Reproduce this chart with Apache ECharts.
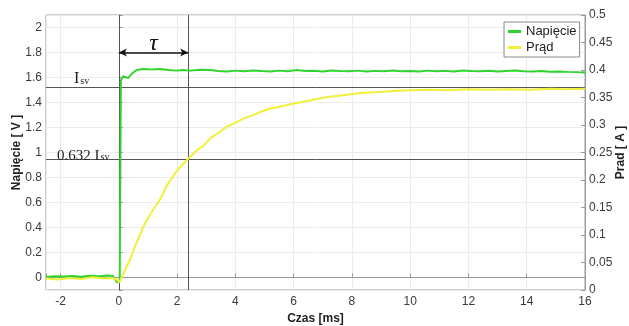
<!DOCTYPE html>
<html>
<head>
<meta charset="utf-8">
<script src="https://cdn.jsdelivr.net/npm/echarts@6.0.0/dist/echarts.min.js"></script>
<style>
  html, body { margin: 0; padding: 0; background: #fff; }
  #chart { width: 629px; height: 326px; }
</style>
</head>
<body>
<div id="chart"></div>
<script>
// czas [ms], napiecie [V] (lewa os)
const napiecie = [
  [-2.5, 0.005], [-2.2, 0.01], [-1.9, 0.008], [-1.6, 0.012], [-1.3, 0.006], [-1.0, 0.014],
  [-0.7, 0.01], [-0.4, 0.016], [-0.2, 0.012], [-0.06, -0.04], [0.03, -0.02], [0.07, 1.58],
  [0.15, 1.61], [0.32, 1.595], [0.44, 1.63], [0.61, 1.66], [0.84, 1.668], [1.1, 1.665],
  [1.41, 1.668], [1.7, 1.66], [1.99, 1.655], [2.2, 1.66], [2.45, 1.655], [2.8, 1.662],
  [3.14, 1.66], [3.4, 1.652], [3.71, 1.648], [4.0, 1.655], [4.29, 1.65], [4.6, 1.656],
  [4.9, 1.652], [5.21, 1.648], [5.5, 1.655], [5.8, 1.65], [6.1, 1.66], [6.4, 1.652],
  [6.7, 1.654], [7.0, 1.648], [7.3, 1.656], [7.6, 1.652], [7.9, 1.65], [8.2, 1.655],
  [8.5, 1.648], [8.8, 1.653], [9.1, 1.65], [9.4, 1.656], [9.7, 1.65], [10.0, 1.652],
  [10.3, 1.648], [10.6, 1.655], [10.9, 1.65], [11.2, 1.653], [11.5, 1.648], [11.8, 1.656],
  [12.1, 1.652], [12.4, 1.65], [12.7, 1.654], [13.0, 1.648], [13.3, 1.652], [13.6, 1.656],
  [13.9, 1.65], [14.2, 1.648], [14.5, 1.652], [14.8, 1.646], [15.1, 1.648], [15.4, 1.645],
  [15.7, 1.643], [16.0, 1.64]
]
// czas [ms], prad [A] (prawa os)
const prad = [
  [-2.5, 0.021], [-2.1, 0.019], [-1.7, 0.022], [-1.3, 0.02], [-0.9, 0.023], [-0.5, 0.021],
  [-0.2, 0.022], [-0.05, 0.018], [0.02, 0.014], [0.2, 0.035], [0.38, 0.055], [0.6, 0.085],
  [0.84, 0.115], [1.1, 0.14], [1.41, 0.164], [1.65, 0.19], [1.93, 0.212], [2.15, 0.226],
  [2.39, 0.239], [2.7, 0.255], [2.9, 0.262], [3.14, 0.276], [3.4, 0.285], [3.71, 0.297],
  [4.0, 0.304], [4.29, 0.312], [4.6, 0.318], [4.86, 0.324], [5.21, 0.33], [5.6, 0.334],
  [6.01, 0.339], [6.5, 0.344], [7.16, 0.351], [7.7, 0.354], [8.31, 0.358], [8.9, 0.36],
  [9.46, 0.362], [10.0, 0.363], [10.61, 0.364], [11.3, 0.363], [12.0, 0.365], [12.7, 0.364],
  [13.4, 0.365], [14.1, 0.364], [14.8, 0.366], [15.4, 0.365], [16.0, 0.366]
]
const tau = 2.38
const isv = 1.524
const isv632 = 0.954
const arrowLevel = 1.8

const chart = echarts.init(document.getElementById('chart'))
const tickFont = { color: '#3a3a3a', fontSize: 12, fontFamily: 'Liberation Sans' }
const nameFont = { color: '#222', fontSize: 12, fontWeight: 'bold', fontFamily: 'Liberation Sans' }
const serif = 'Liberation Serif'
const isMultiple = (v, step) => Math.abs(v / step - Math.round(v / step)) < 1e-6

chart.setOption({
  animation: false,
  grid: {
    left: 46, right: 44, top: 15, bottom: 36, outerBoundsMode: 'none',
    show: true, borderColor: '#9a9a9a', borderWidth: 1
  },
  legend: {
    orient: 'vertical', left: 504, top: 22, data: ['Napięcie', 'Prąd'],
    backgroundColor: '#fff', borderColor: '#8a8a8a', borderWidth: 1, padding: [3, 3, 3, 4],
    itemWidth: 13, itemHeight: 3, itemGap: 3, icon: 'rect',
    textStyle: { color: '#222', fontSize: 13, fontFamily: 'Liberation Sans' }
  },
  xAxis: {
    type: 'value', min: -2.5, max: 16, splitNumber: 9,
    name: 'Czas [ms]', nameLocation: 'middle', nameGap: 22, nameTextStyle: nameFont,
    axisLine: { lineStyle: { color: '#9a9a9a' } },
    axisTick: { inside: true, length: 4, lineStyle: { color: '#9a9a9a' } },
    axisLabel: { ...tickFont, margin: 6, formatter: v => isMultiple(v, 2) ? String(v) : '' },
    splitLine: { show: true, lineStyle: { color: '#ececec' } }
  },
  yAxis: [
    {
      type: 'value', min: -0.1, max: 2.1, splitNumber: 11,
      name: 'Napięcie [ V ]', nameLocation: 'middle', nameGap: 23, nameRotate: 90,
      nameMoveOverlap: false, nameTextStyle: nameFont,
      axisLine: { show: true, lineStyle: { color: '#9a9a9a' } },
      axisTick: { show: true, inside: true, length: 4, lineStyle: { color: '#9a9a9a' } },
      axisLabel: { ...tickFont, margin: 4, formatter: v => isMultiple(v, 0.2) ? String(+v.toFixed(1)) : '' },
      splitLine: { show: true, lineStyle: { color: '#ececec' } }
    },
    {
      type: 'value', min: 0, max: 0.5, interval: 0.05, position: 'right',
      name: 'Prad [ A ]', nameLocation: 'middle', nameGap: 30, nameRotate: 90,
      nameMoveOverlap: false, nameTextStyle: nameFont,
      axisLine: { show: true, lineStyle: { color: '#9a9a9a' } },
      axisTick: { show: true, inside: true, length: 4, lineStyle: { color: '#9a9a9a' } },
      axisLabel: { ...tickFont, margin: 4, formatter: v => String(+v.toFixed(2)) },
      splitLine: { show: false }
    }
  ],
  series: [
    {
      name: 'Napięcie', type: 'line', yAxisIndex: 0, z: 3,
      data: napiecie, showSymbol: false, symbol: 'none',
      lineStyle: { color: '#2fd42f', width: 2 }, itemStyle: { color: '#2fd42f' },
      markLine: {
        silent: true, symbol: 'none', animation: false, z: 1,
        lineStyle: { color: '#555', width: 1, type: 'solid' },
        label: { show: false },
        data: [
          { xAxis: 0 },
          { xAxis: tau },
          {
            yAxis: isv,
            label: {
              show: true, position: 'insideStartTop', distance: [28, 1],
              formatter: '{m|I}{s|sv}',
              rich: {
                m: { fontFamily: serif, fontSize: 16, color: '#222', lineHeight: 16, verticalAlign: 'top' },
                s: { fontFamily: serif, fontSize: 10, color: '#222', lineHeight: 8, verticalAlign: 'bottom', padding: [0, 0, 0, 1] }
              }
            }
          },
          {
            yAxis: isv632,
            label: {
              show: true, position: 'insideStartTop', distance: [11, -4],
              formatter: '{m|0.632 I}{s|sv}',
              rich: {
                m: { fontFamily: serif, fontSize: 15, color: '#222', lineHeight: 14, verticalAlign: 'top' },
                s: { fontFamily: serif, fontSize: 10, color: '#222', lineHeight: 8, verticalAlign: 'bottom', padding: [0, 0, 0, 1] }
              }
            }
          },
          [
            {
              coord: [0, arrowLevel], symbol: 'arrow', symbolSize: [6, 8],
              lineStyle: { color: '#111', width: 1.5 },
              label: {
                show: true, position: 'middle', formatter: 'τ', distance: -3,
                fontFamily: serif, fontStyle: 'italic', fontSize: 24, color: '#111'
              }
            },
            { coord: [tau, arrowLevel], symbol: 'arrow', symbolSize: [6, 8] }
          ]
        ]
      }
    },
    {
      name: 'Prąd', type: 'line', yAxisIndex: 1, z: 4,
      data: prad, showSymbol: false, symbol: 'none',
      lineStyle: { color: '#f0f03a', width: 2 }, itemStyle: { color: '#f0f03a' }
    }
  ]
})
</script>
</body>
</html>
